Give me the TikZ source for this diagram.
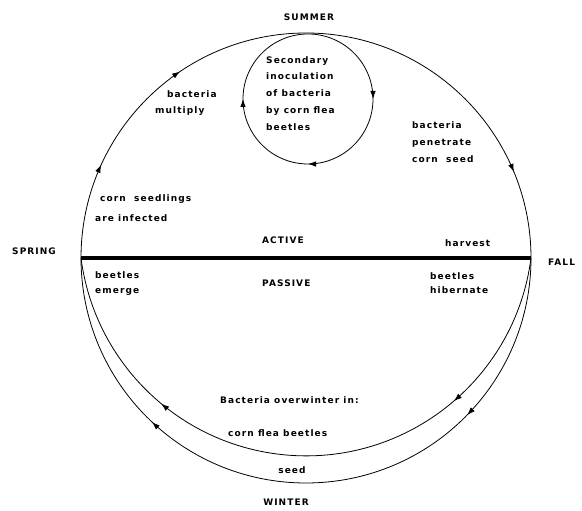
\documentclass[tikz,border=0pt]{standalone}
\usepackage{fontspec}
\setmainfont{DejaVu Sans}
\newfontfamily\labfont[LetterSpace=12]{DejaVu Sans}
\usetikzlibrary{arrows.meta,decorations.markings}
\newcommand\cyctip{\arrow{Latex[length=8pt,width=5.5pt]}}
\begin{document}
\begin{tikzpicture}[x=1pt,y=1pt,
  lab/.style={font=\labfont\bfseries\fontsize{9}{16.5}\selectfont, inner sep=0pt, align=left},
  caps/.style={font=\labfont\bfseries\fontsize{9}{11}\selectfont, inner sep=0pt},
  cyc/.style={line width=0.8pt},
  divide/.style={line width=3.2pt},
  upmarks/.style={postaction={decorate}, decoration={markings,
      mark=at position 0.136 with {\cyctip},
      mark=at position 0.311 with {\cyctip},
      mark=at position 0.875 with {\cyctip}}},
  lowmarks/.style={postaction={decorate}, decoration={markings,
      mark=at position #1 with {\cyctip},
      mark=at position 0.74 with {\cyctip}}},
  smallmarks/.style={postaction={decorate}, decoration={markings,
      mark=at position 0.25 with {\cyctip},
      mark=at position 0.5 with {\cyctip},
      mark=at position 0.75 with {\cyctip}}}
]
\useasboundingbox (0,0) rectangle (582,511);
\fill[white] (0,0) rectangle (582,511);

% key points
\coordinate (C) at (306,253);
\coordinate (S) at (81,253);
\coordinate (F) at (531,253);
\coordinate (sumtop) at (308,477);

% upper half of the cycle (spring -> summer -> fall)
\draw[cyc, upmarks] (S) arc[start angle=180, end angle=0, radius=225];
% outer lower arc (seed)
\draw[cyc, lowmarks=0.246] (F) arc[start angle=0, end angle=-180, radius=225];
% inner lower arc (corn flea beetles)
\draw[cyc, lowmarks=0.254] (F) arc[start angle=-7.34, end angle=-172.66, radius=226.86];
% secondary inoculation loop
\draw[cyc, smallmarks] (sumtop) arc[start angle=90, end angle=-270, radius=65];
% active / passive divide
\draw[divide] (S) -- (F);

% season labels
\node[caps] (summer) at (309,494) {SUMMER};
\node[caps, anchor=west] (spring) at (12,260) {SPRING};
\node[caps, anchor=west] (fall) at (548,249) {FALL};
\node[caps] (winter) at (286,9) {WINTER};
\node[caps, anchor=west] (active) at (262,271) {ACTIVE};
\node[caps, anchor=west] (passive) at (262,228) {PASSIVE};

% text labels
\node[lab, anchor=north west, font=\labfont\bfseries\fontsize{9}{16.75}\selectfont] (secondary) at (266,455)
  {Secondary\\inoculation\\of bacteria\\by corn flea\\beetles};
\node[lab, anchor=north west] (multiply) at (155,421) {\hspace*{12pt}bacteria\\multiply};
\node[lab, anchor=north west, font=\labfont\bfseries\fontsize{9}{17}\selectfont] (penetrate) at (412,390)
  {bacteria\\penetrate\\corn\ \ seed};
\node[lab, anchor=north west, font=\labfont\bfseries\fontsize{9}{20}\selectfont] (infected) at (95,317)
  {\hspace*{5pt}corn\ \ seedlings\\are infected};
\node[lab, anchor=west] (harvest) at (445,268) {harvest};
\node[lab, anchor=north west, font=\labfont\bfseries\fontsize{9}{15}\selectfont] (emerge) at (95,240) {beetles\\emerge};
\node[lab, anchor=north west, font=\labfont\bfseries\fontsize{9}{14.5}\selectfont] (hibernate) at (430,239) {beetles\\hibernate};
\node[lab, anchor=west] (overwinter) at (220,111) {Bacteria overwinter in:};
\node[lab, anchor=west] (fleabeetles) at (228,78) {corn flea beetles};
\node[lab] (seed) at (292,41) {seed};
\end{tikzpicture}
\end{document}
